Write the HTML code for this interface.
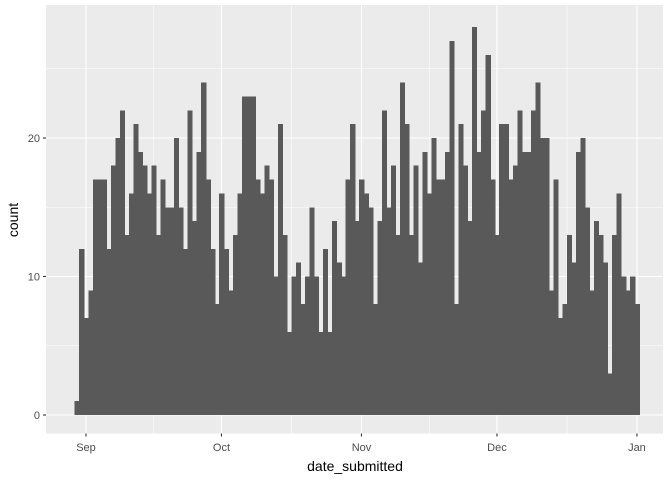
<!DOCTYPE html>
<html><head><meta charset="utf-8"><style>
body{margin:0;background:#fff}
svg text{font-family:"Liberation Sans",sans-serif}
</style></head><body>
<svg id="chart" width="672" height="480" xmlns="http://www.w3.org/2000/svg">
<rect x="46" y="5" width="617" height="428.5" fill="#ebebeb"/>
<g id="grid"></g><g id="bars" shape-rendering="crispEdges"></g><g id="axes"></g>
<text x="355" y="471" text-anchor="middle" font-size="14" fill="#000">date_submitted</text>
<text transform="translate(18,220) rotate(-90)" text-anchor="middle" font-size="14" fill="#000">count</text>
</svg>
<script>
// counts per day, first bin centered on Aug 30
const counts=[1,12,7,9,17,17,17,12,18,20,22,13,16,21,19,18,16,18,13,17,15,15,20,15,12,22,14,19,24,17,12,8,16,12,9,13,16,23,23,23,17,16,18,17,10,21,13,6,10,11,8,10,15,10,6,12,6,14,11,10,17,21,14,17,16,15,8,14,22,15,18,13,24,21,13,18,11,19,16,20,17,17,19,27,8,21,18,14,28,19,22,26,17,13,21,21,17,18,22,19,19,22,24,20,20,9,17,7,8,13,11,19,20,15,9,14,13,11,3,13,16,10,9,10,8];
const firstDay=-2; // day offset relative to Sep 1
const xTickLabels=["Sep","Oct","Nov","Dec","Jan"];
const xTickDays=[0,30,61,91,122];
const yTicks=[0,10,20];
const yMinor=[5,15,25];
const x=d=>86+d*4.516;
const y=c=>415-c*13.85;
const NS="http://www.w3.org/2000/svg";
function mk(t,a,p){const e=document.createElementNS(NS,t);for(const k in a)e.setAttribute(k,a[k]);p.appendChild(e);return e;}
const grid=document.getElementById('grid'),bars=document.getElementById('bars'),axes=document.getElementById('axes');
yMinor.forEach(v=>{const l=mk('line',{x1:46,x2:663,y1:y(v),y2:y(v),stroke:'#fff','stroke-width':0.55},grid);

});
for(let i=0;i<xTickDays.length-1;i++){const m=(xTickDays[i]+xTickDays[i+1])/2;const l=mk('line',{x1:x(m),x2:x(m),y1:5,y2:433.5,stroke:'#fff','stroke-width':0.55},grid);

}
yTicks.forEach(v=>{const l=mk('line',{x1:46,x2:663,y1:y(v),y2:y(v),stroke:'#fff','stroke-width':1.1},grid);


const t=mk('line',{x1:43,x2:46,y1:y(v),y2:y(v),stroke:'#333','stroke-width':1.1},axes);


const tx=mk('text',{x:40,y:y(v)+4,'text-anchor':'end','font-size':11,fill:'#4d4d4d'},axes);tx.textContent=v;

});
xTickDays.forEach((d,i)=>{const l=mk('line',{x1:x(d),x2:x(d),y1:5,y2:433.5,stroke:'#fff','stroke-width':1.1},grid);


const t=mk('line',{x1:x(d),x2:x(d),y1:433.5,y2:436.5,stroke:'#333','stroke-width':1.1},axes);


const tx=mk('text',{x:x(d),y:451,'text-anchor':'middle','font-size':11,fill:'#4d4d4d'},axes);tx.textContent=xTickLabels[i];

});
counts.forEach((c,i)=>{const d=firstDay+i;const r=mk('rect',{x:x(d-0.5),width:4.516+0.6,y:y(c),height:y(0)-y(c),fill:'#595959'},bars);

});
</script>
</body></html>
